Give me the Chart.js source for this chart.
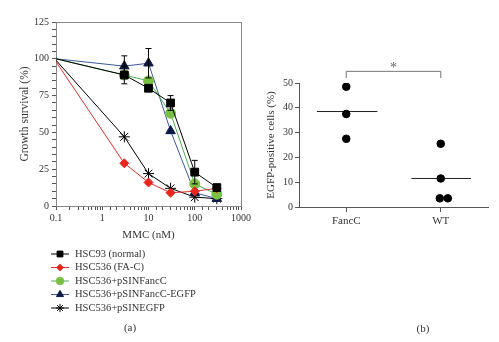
<!DOCTYPE html>
<html>
<head>
<meta charset="utf-8">
<script src="https://cdn.jsdelivr.net/npm/chart.js@4/dist/chart.umd.min.js"></script>
<style>
  body { margin: 0; background: #fff; }
  #wrapA { position: absolute; left: 0; top: 0; width: 260px; height: 342px; }
  #wrapB { position: absolute; left: 260px; top: 0; width: 239px; height: 342px; }
</style>
</head>
<body>
<div id="wrapA"><canvas id="chartA"></canvas></div>
<div id="wrapB"><canvas id="chartB"></canvas></div>
<script>
const FONT = '"Liberation Serif", "DejaVu Serif", serif';
const TXT = '#333';

// (a) survival curves
const doses = [0.1, 3, 10, 30, 100, 300];
const hsc93 = [100, 89, 80, 70, 23, 12.5];
const hsc93Err = [0, 6, 0, 5, 8, 0];
const fac = [98, 29, 16, 9, 10, 12];
const pSINFancC = [100, 89, 85, 63, 15, 8];
const pSINFancCEGFP = [100, 95, 97, 51, 9, 5];
const pSINFancCEGFPErr = [0, 7, 10, 0, 0, 0];
const pSINEGFP = [99, 47, 22, 12, 6, 5];
const seriesNames = ['HSC93 (normal)', 'HSC536 (FA-C)', 'HSC536+pSINFancC', 'HSC536+pSINFancC-EGFP', 'HSC536+pSINEGFP'];

// (b) EGFP-positive cells
const groups = ['FancC', 'WT'];
const fanccPoints = [48.5, 37.5, 27.5];
const wtPoints = [25.5, 11.5, 3.5, 3.5];
const wtOffsets = [0, 0, -0.01, 0.075];
const medians = [38.5, 11.5];

const pts = (ys) => ys.map((y, i) => ({ x: doses[i], y }));

const styles = [
  { line: '#000', fill: '#000', style: 'rect', r: 5.5 },
  { line: '#e0302a', fill: '#e8261e', style: 'rectRot', r: 4.5 },
  { line: '#4caf50', fill: '#7ac143', style: 'circle', r: 5 },
  { line: '#3c5a9a', fill: '#0d1a48', style: 'triangle', r: 5.5 },
  { line: '#000', fill: '#000', style: 'star', r: 5.5 }
];
const values = [hsc93, fac, pSINFancC, pSINFancCEGFP, pSINEGFP];
const errs = [hsc93Err, null, null, pSINFancCEGFPErr, null];

const errorBars = {
  id: 'errorBars',
  afterDatasetsDraw(chart) {
    const ctx = chart.ctx, xs = chart.scales.x, ys = chart.scales.y;
    ctx.save();
    ctx.strokeStyle = '#000';
    ctx.lineWidth = 1;
    errs.forEach((e, di) => {
      if (!e) return;
      e.forEach((v, i) => {
        if (!v) return;
        const x = xs.getPixelForValue(doses[i]);
        const y0 = ys.getPixelForValue(values[di][i] - v);
        const y1 = ys.getPixelForValue(values[di][i] + v);
        ctx.beginPath();
        ctx.moveTo(x, y0); ctx.lineTo(x, y1);
        ctx.moveTo(x - 3, y0); ctx.lineTo(x + 3, y0);
        ctx.moveTo(x - 3, y1); ctx.lineTo(x + 3, y1);
        ctx.stroke();
      });
    });
    ctx.restore();
  }
};

const legendA = {
  id: 'legendA',
  afterDraw(chart) {
    const ctx = chart.ctx;
    ctx.save();
    ctx.font = '10.5px ' + FONT;
    ctx.textBaseline = 'middle';
    seriesNames.forEach((name, i) => {
      const y = 254 + i * 13.5, s = styles[i];
      ctx.strokeStyle = s.line;
      ctx.lineWidth = 1;
      ctx.beginPath(); ctx.moveTo(51, y); ctx.lineTo(69, y); ctx.stroke();
      ctx.fillStyle = s.fill; ctx.strokeStyle = s.fill;
      Chart.helpers.drawPoint(ctx, { pointStyle: s.style, radius: s.r * 0.75, rotation: 0, borderWidth: 1 }, 60, y);
      ctx.fillStyle = TXT;
      ctx.fillText(name, 75, y);
    });
    ctx.textAlign = 'center';
    ctx.font = '11px ' + FONT;
    ctx.fillText('(a)', 130, 328);
    ctx.restore();
  }
};

new Chart(document.getElementById('chartA'), {
  type: 'line',
  data: {
    datasets: values.map((v, i) => ({
      label: seriesNames[i],
      data: pts(v),
      borderColor: styles[i].line,
      borderWidth: 1,
      backgroundColor: styles[i].fill,
      pointBackgroundColor: styles[i].fill,
      pointBorderColor: styles[i].fill,
      pointStyle: styles[i].style,
      pointRadius: doses.map((d, j) => (j === 0 ? 0 : styles[i].r)),
      pointBorderWidth: 1,
      tension: 0
    }))
  },
  options: {
    responsive: true,
    maintainAspectRatio: false,
    animation: false,
    layout: { padding: { left: 18, right: 19, top: 22, bottom: 96 } },
    plugins: { legend: { display: false }, tooltip: { enabled: false } },
    scales: {
      x: {
        type: 'logarithmic',
        min: 0.1, max: 1000,
        border: { color: '#888' },
        grid: { drawOnChartArea: false, tickLength: 4, color: '#555' },
        ticks: {
          autoSkip: false, maxRotation: 0, padding: 2,
          font: { family: FONT, size: 10 }, color: TXT,
          callback: (v) => ([0.1, 1, 10, 100, 1000].includes(v) ? String(v) : '')
        },
        title: { display: true, text: 'MMC (nM)', font: { family: FONT, size: 11 }, color: TXT, padding: { top: 4 } },
        afterFit: (s) => { s.height = 40; }
      },
      x2: {
        type: 'linear', position: 'top', display: true,
        border: { color: '#888' }, grid: { display: false }, ticks: { display: false },
        afterFit: (s) => { s.height = 0; }
      },
      y: {
        min: 0, max: 125,
        border: { color: '#888' },
        grid: { drawOnChartArea: false, tickLength: 4, color: '#555' },
        ticks: {
          stepSize: 5, autoSkip: false, padding: 3,
          font: { family: FONT, size: 10 }, color: TXT,
          callback: (v) => (v % 25 === 0 ? String(v) : '')
        },
        title: { display: true, text: 'Growth survival (%)', font: { family: FONT, size: 11.5 }, color: TXT, padding: 0 },
        afterFit: (s) => { s.width = 38; }
      },
      y2: {
        type: 'linear', position: 'right', display: true,
        border: { color: '#888' }, grid: { display: false }, ticks: { display: false },
        afterFit: (s) => { s.width = 0; }
      }
    }
  },
  plugins: [errorBars, legendA]
});

// (b)
const bracket = {
  id: 'bracket',
  afterDraw(chart) {
    const ctx = chart.ctx, xs = chart.scales.x, ys = chart.scales.y;
    const xa = xs.getPixelForValue(0), xb = xs.getPixelForValue(1);
    const yTop = ys.getPixelForValue(54.7), yEnd = ys.getPixelForValue(52);
    ctx.save();
    ctx.strokeStyle = '#777';
    ctx.lineWidth = 1;
    ctx.beginPath();
    ctx.moveTo(xa, yEnd); ctx.lineTo(xa, yTop); ctx.lineTo(xb, yTop); ctx.lineTo(xb, yEnd);
    ctx.stroke();
    ctx.fillStyle = '#666';
    ctx.font = '14px ' + FONT;
    ctx.textAlign = 'center';
    ctx.fillText('*', (xa + xb) / 2, yTop + 1);
    ctx.fillStyle = TXT;
    ctx.font = '11px ' + FONT;
    ctx.fillText('(b)', 163, 332);
    ctx.restore();
  }
};

new Chart(document.getElementById('chartB'), {
  type: 'scatter',
  data: {
    datasets: [
      { data: fanccPoints.map(y => ({ x: 0, y })), backgroundColor: '#000', borderColor: '#000', pointRadius: 3.8 },
      { data: wtPoints.map((y, i) => ({ x: 1 + wtOffsets[i], y })), backgroundColor: '#000', borderColor: '#000', pointRadius: 3.8 },
      { type: 'line', data: [{ x: -0.31, y: medians[0] }, { x: 0.33, y: medians[0] }], borderColor: '#222', borderWidth: 1, pointRadius: 0 },
      { type: 'line', data: [{ x: 0.69, y: medians[1] }, { x: 1.32, y: medians[1] }], borderColor: '#222', borderWidth: 1, pointRadius: 0 }
    ]
  },
  options: {
    responsive: true,
    maintainAspectRatio: false,
    animation: false,
    layout: { padding: { left: 0, right: 11, top: 83, bottom: 96 } },
    plugins: { legend: { display: false }, tooltip: { enabled: false } },
    scales: {
      x: {
        type: 'linear', min: -0.5, max: 1.5,
        border: { color: '#555' },
        grid: { drawOnChartArea: false, tickLength: 5, color: '#555' },
        afterBuildTicks: (s) => { s.ticks = [{ value: 0 }, { value: 1 }]; },
        ticks: {
          autoSkip: false, maxRotation: 0, padding: 3,
          font: { family: FONT, size: 11 }, color: TXT,
          callback: (v) => groups[v]
        },
        afterFit: (s) => { s.height = 39; }
      },
      y: {
        min: 0, max: 50,
        border: { color: '#555' },
        grid: { drawOnChartArea: false, tickLength: 4, color: '#555' },
        ticks: { stepSize: 10, padding: 2, font: { family: FONT, size: 10 }, color: TXT },
        title: { display: true, text: 'EGFP-positive cells (%)', font: { family: FONT, size: 11 }, color: TXT, padding: { top: 5, bottom: 0 } },
        afterFit: (s) => { s.width = 39; }
      }
    }
  },
  plugins: [bracket]
});
</script>
</body>
</html>
